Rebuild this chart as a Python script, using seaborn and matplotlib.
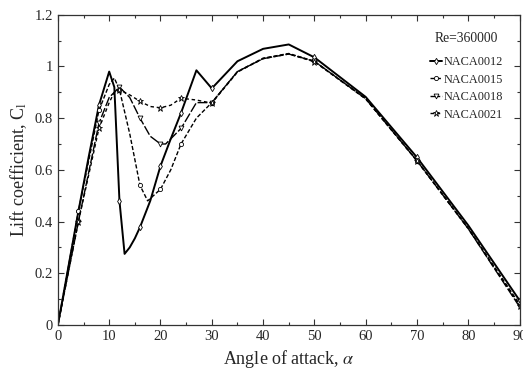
import numpy as np
import pandas as pd
import matplotlib
matplotlib.use("Agg")
import matplotlib.pyplot as plt
from matplotlib.ticker import MultipleLocator
import seaborn as sns

# Lift coefficient vs angle of attack at Re = 360000
alpha_0012 = [0, 2, 4, 6, 8, 10, 11, 12, 13, 14, 15, 16, 18, 20, 22, 24, 27, 30, 35, 40, 45, 50, 60, 70, 80, 90]
cl_0012 = [0, 0.22, 0.44, 0.65, 0.85, 0.98, 0.92, 0.48, 0.275, 0.30, 0.335, 0.378, 0.48, 0.615, 0.72, 0.82, 0.985, 0.915,
           1.02, 1.068, 1.085, 1.035, 0.882, 0.648, 0.385, 0.095]

alpha_0015 = [0, 2, 4, 8, 10, 11, 12, 14, 16, 17.5, 20, 22, 24, 27, 30, 35, 40, 45, 50, 60, 70, 80, 90]
cl_0015 = [0, 0.22, 0.44, 0.83, 0.93, 0.955, 0.91, 0.74, 0.54, 0.48, 0.525, 0.60, 0.70, 0.80, 0.86,
           0.98, 1.032, 1.05, 1.02, 0.876, 0.636, 0.375, 0.08]

alpha_0018 = [0, 2, 4, 8, 10, 12, 14, 16, 18, 20, 21, 24, 27, 30, 35, 40, 45, 50, 60, 70, 80, 90]
cl_0018 = [0, 0.20, 0.40, 0.78, 0.88, 0.92, 0.88, 0.80, 0.73, 0.70, 0.70, 0.76, 0.86, 0.86,
           0.98, 1.03, 1.048, 1.02, 0.875, 0.635, 0.372, 0.07]

alpha_0021 = [0, 2, 4, 8, 10, 11, 12, 14, 16, 18, 20, 22, 24, 27, 30, 35, 40, 45, 50, 60, 70, 80, 90]
cl_0021 = [0, 0.20, 0.40, 0.76, 0.86, 0.90, 0.91, 0.89, 0.865, 0.845, 0.84, 0.85, 0.877, 0.87, 0.858,
           0.978, 1.03, 1.048, 1.018, 0.874, 0.634, 0.372, 0.075]

series_names = ["NACA0012", "NACA0015", "NACA0018", "NACA0021"]
x_ticks = [0, 10, 20, 30, 40, 50, 60, 70, 80, 90]
y_ticks = [0, 0.2, 0.4, 0.6, 0.8, 1.0, 1.2]
y_tick_labels = ["0", "0.2", "0.4", "0.6", "0.8", "1", "1.2"]

frames = []
for name, a, c in zip(series_names,
                      [alpha_0012, alpha_0015, alpha_0018, alpha_0021],
                      [cl_0012, cl_0015, cl_0018, cl_0021]):
    frames.append(pd.DataFrame({"alpha": a, "cl": c, "airfoil": name}))
data = pd.concat(frames, ignore_index=True)

sns.set_style("ticks")
plt.rcParams["font.family"] = ["Liberation Serif", "DejaVu Serif"]
plt.rcParams["mathtext.fontset"] = "stix"

fig = plt.figure(figsize=(5.23, 3.79), dpi=100)
ax = fig.add_axes([0.1107, 0.1425, 0.8828, 0.8187])

styles = {
    "NACA0012": dict(ls="-", marker="d", lw=1.4, ms=3.2),
    "NACA0015": dict(ls=(0, (3, 1.5)), marker="o", lw=1.0, ms=3.0),
    "NACA0018": dict(ls=(0, (7, 1.5)), marker="v", lw=1.0, ms=3.5),
    "NACA0021": dict(ls=(0, (2.5, 2)), marker="*", lw=1.0, ms=4.5),
}
marked_angles = {4, 8, 12, 16, 20, 24, 30, 50, 70, 90}

for name in series_names:
    sub = data[data["airfoil"] == name]
    st = styles[name]
    idx = [i for i, a in enumerate(sub["alpha"]) if a in marked_angles]
    sns.lineplot(data=sub, x="alpha", y="cl", ax=ax, sort=False, color="black",
                 linewidth=st["lw"], linestyle=st["ls"], marker=st["marker"],
                 markersize=st["ms"], markerfacecolor="white", markeredgecolor="black",
                 markeredgewidth=0.6, markevery=idx, label=name)

ax.set_xlim(0, 90)
ax.set_ylim(0, 1.2)
ax.set_xticks(x_ticks)
ax.set_yticks(y_ticks)
ax.set_yticklabels(y_tick_labels)
ax.xaxis.set_minor_locator(MultipleLocator(5))
ax.yaxis.set_minor_locator(MultipleLocator(0.1))
ax.tick_params(which="both", direction="in", top=True, right=True, labelsize=10.5, color="#333333")
ax.tick_params(which="major", length=4, width=0.8)
ax.tick_params(which="minor", length=2.5, width=0.8)
for sp in ax.spines.values():
    sp.set_linewidth(0.9)
    sp.set_color("#333333")

ax.set_xlabel(r"Angle of attack, $\alpha$", fontsize=13, labelpad=4)
ax.set_ylabel(r"Lift coefficient, C$_\mathregular{l}$", fontsize=13, labelpad=4)

leg = ax.legend(title="Re=360000", loc="upper right",
                bbox_to_anchor=(503 / 523, 1 - 32 / 379), bbox_transform=fig.transFigure,
                frameon=False, fontsize=8.8, title_fontsize=9.8, handlelength=1.0,
                handletextpad=0.1, labelspacing=0.45, borderaxespad=0, borderpad=0)
leg._legend_box.sep = 8

fig.savefig("out.png", dpi=100)
